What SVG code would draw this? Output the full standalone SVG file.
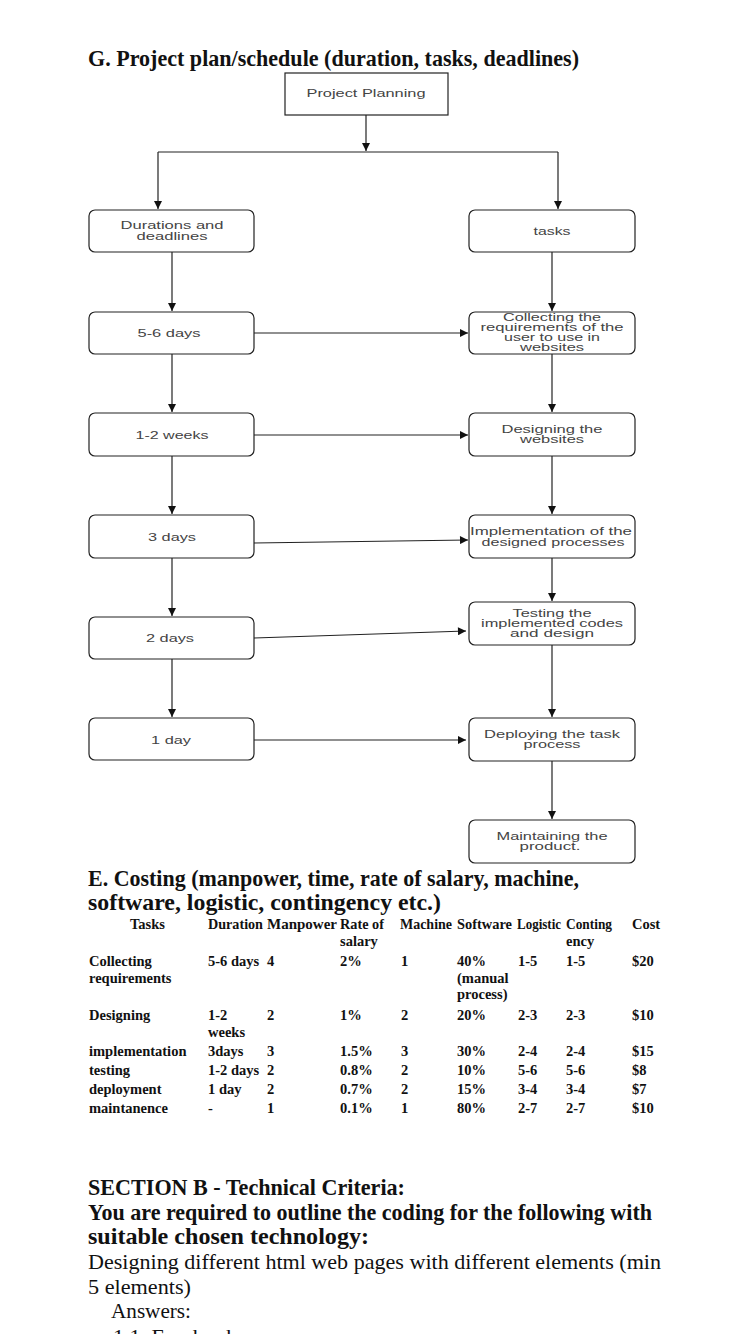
<svg xmlns="http://www.w3.org/2000/svg" width="750" height="1334" viewBox="0 0 750 1334">
<style>
.h{font-family:"Liberation Serif",serif;font-weight:bold;font-size:22.5px;fill:#111}
.p{font-family:"Liberation Serif",serif;font-size:22px;fill:#111}
.n rect{fill:#fff;stroke:#222;stroke-width:1.2}
.n text{font-family:"Liberation Sans",Arial,sans-serif;font-size:11px;fill:#444;text-anchor:middle}
.c line,.c path{stroke:#222;stroke-width:1.2;fill:none}
.t{font-family:"Liberation Serif",serif;font-weight:bold;font-size:14.5px;fill:#111}
</style>
<defs>
<marker id="ah" viewBox="0 0 10 10" refX="10" refY="5" markerWidth="9" markerHeight="8" markerUnits="userSpaceOnUse" orient="auto">
<path d="M0,0 L10,5 L0,10 Z" fill="#111"/>
</marker>
</defs>
<rect width="750" height="1334" fill="#fff"/>

<text class="h" x="88" y="66" textLength="491" lengthAdjust="spacingAndGlyphs">G. Project plan/schedule (duration, tasks, deadlines)</text>

<g class="c" id="connectors">
<line x1="366" y1="115" x2="366" y2="151" marker-end="url(#ah)"/>
<line x1="158" y1="152" x2="558" y2="152"/>
<line x1="158" y1="152" x2="158" y2="209" marker-end="url(#ah)"/>
<line x1="558" y1="152" x2="558" y2="209" marker-end="url(#ah)"/>
<line x1="172" y1="252" x2="172" y2="311" marker-end="url(#ah)"/>
<line x1="172" y1="354" x2="172" y2="412" marker-end="url(#ah)"/>
<line x1="172" y1="456" x2="172" y2="514" marker-end="url(#ah)"/>
<line x1="172" y1="558" x2="172" y2="616" marker-end="url(#ah)"/>
<line x1="172" y1="659" x2="172" y2="717" marker-end="url(#ah)"/>
<line x1="552" y1="252" x2="552" y2="311" marker-end="url(#ah)"/>
<line x1="552" y1="354" x2="552" y2="412" marker-end="url(#ah)"/>
<line x1="552" y1="456" x2="552" y2="514" marker-end="url(#ah)"/>
<line x1="552" y1="558" x2="552" y2="601" marker-end="url(#ah)"/>
<line x1="552" y1="645" x2="552" y2="717" marker-end="url(#ah)"/>
<line x1="552" y1="761" x2="552" y2="819" marker-end="url(#ah)"/>
<line x1="254" y1="333" x2="468" y2="333" marker-end="url(#ah)"/>
<line x1="254" y1="435" x2="468" y2="435" marker-end="url(#ah)"/>
<line x1="254" y1="543" x2="468" y2="540" marker-end="url(#ah)"/>
<line x1="254" y1="638" x2="466" y2="631" marker-end="url(#ah)"/>
<line x1="254" y1="740" x2="466" y2="740" marker-end="url(#ah)"/>
</g>

<g class="n" id="project-planning">
<rect x="285" y="73" width="163" height="42"/>
<text x="366" y="97" textLength="119" lengthAdjust="spacingAndGlyphs">Project Planning</text>
</g>
<g class="n" id="durations">
<rect x="89" y="210" width="165" height="42" rx="6"/>
<text x="172" y="229" textLength="103" lengthAdjust="spacingAndGlyphs">Durations and</text>
<text x="172" y="240" textLength="71" lengthAdjust="spacingAndGlyphs">deadlines</text>
</g>
<g class="n" id="tasks">
<rect x="469" y="210" width="166" height="42" rx="6"/>
<text x="552" y="235" textLength="37" lengthAdjust="spacingAndGlyphs">tasks</text>
</g>
<g class="n" id="d1">
<rect x="89" y="312" width="165" height="42" rx="6"/>
<text x="169" y="337" textLength="63" lengthAdjust="spacingAndGlyphs">5-6 days</text>
</g>
<g class="n" id="t1">
<rect x="469" y="312" width="166" height="42" rx="6"/>
<text x="552" y="321" textLength="98" lengthAdjust="spacingAndGlyphs">Collecting the</text>
<text x="552" y="331" textLength="143" lengthAdjust="spacingAndGlyphs">requirements of the</text>
<text x="552" y="341" textLength="96" lengthAdjust="spacingAndGlyphs">user to use in</text>
<text x="552" y="351" textLength="64" lengthAdjust="spacingAndGlyphs">websites</text>
</g>
<g class="n" id="d2">
<rect x="89" y="413" width="165" height="43" rx="6"/>
<text x="172" y="439" textLength="73" lengthAdjust="spacingAndGlyphs">1-2 weeks</text>
</g>
<g class="n" id="t2">
<rect x="469" y="413" width="166" height="43" rx="6"/>
<text x="552" y="433" textLength="101" lengthAdjust="spacingAndGlyphs">Designing the</text>
<text x="552" y="443" textLength="64" lengthAdjust="spacingAndGlyphs">websites</text>
</g>
<g class="n" id="d3">
<rect x="89" y="515" width="165" height="43" rx="6"/>
<text x="172" y="541" textLength="48" lengthAdjust="spacingAndGlyphs">3 days</text>
</g>
<g class="n" id="t3">
<rect x="469" y="515" width="166" height="43" rx="6"/>
<text x="551" y="535" textLength="162" lengthAdjust="spacingAndGlyphs">Implementation of the</text>
<text x="553" y="546" textLength="143" lengthAdjust="spacingAndGlyphs">designed processes</text>
</g>
<g class="n" id="d4">
<rect x="89" y="617" width="165" height="42" rx="6"/>
<text x="170" y="642" textLength="48" lengthAdjust="spacingAndGlyphs">2 days</text>
</g>
<g class="n" id="t4">
<rect x="469" y="602" width="166" height="43" rx="6"/>
<text x="552" y="617" textLength="79" lengthAdjust="spacingAndGlyphs">Testing the</text>
<text x="552" y="627" textLength="142" lengthAdjust="spacingAndGlyphs">implemented codes</text>
<text x="552" y="637" textLength="84" lengthAdjust="spacingAndGlyphs">and design</text>
</g>
<g class="n" id="d5">
<rect x="89" y="718" width="165" height="42" rx="6"/>
<text x="171" y="744" textLength="40" lengthAdjust="spacingAndGlyphs">1 day</text>
</g>
<g class="n" id="t5">
<rect x="469" y="718" width="166" height="43" rx="6"/>
<text x="552" y="738" textLength="136" lengthAdjust="spacingAndGlyphs">Deploying the task</text>
<text x="552" y="748" textLength="57" lengthAdjust="spacingAndGlyphs">process</text>
</g>
<g class="n" id="t6">
<rect x="469" y="820" width="166" height="43" rx="6"/>
<text x="552" y="840" textLength="111" lengthAdjust="spacingAndGlyphs">Maintaining the</text>
<text x="550" y="850" textLength="61" lengthAdjust="spacingAndGlyphs">product.</text>
</g>

<text class="h" x="88" y="886" textLength="491" lengthAdjust="spacingAndGlyphs">E. Costing (manpower, time, rate of salary, machine,</text>
<text class="h" x="88" y="910" textLength="353" lengthAdjust="spacingAndGlyphs">software, logistic, contingency etc.)</text>

<g class="t">
<text x="130" y="929">Tasks</text>
<text x="208" y="929" textLength="55" lengthAdjust="spacingAndGlyphs">Duration</text>
<text x="267" y="929" textLength="70" lengthAdjust="spacingAndGlyphs">Manpower</text>
<text x="340" y="929" textLength="44" lengthAdjust="spacingAndGlyphs">Rate of</text>
<text x="340" y="946">salary</text>
<text x="400" y="929" textLength="52" lengthAdjust="spacingAndGlyphs">Machine</text>
<text x="457" y="929" textLength="55" lengthAdjust="spacingAndGlyphs">Software</text>
<text x="517" y="929" textLength="44" lengthAdjust="spacingAndGlyphs">Logistic</text>
<text x="566" y="929" textLength="46" lengthAdjust="spacingAndGlyphs">Conting</text>
<text x="566" y="946">ency</text>
<text x="632" y="929">Cost</text>

<text x="89" y="966">Collecting</text>
<text x="89" y="983">requirements</text>
<text x="208" y="966">5-6 days</text>
<text x="267" y="966">4</text>
<text x="340" y="966">2%</text>
<text x="401" y="966">1</text>
<text x="457" y="966">40%</text>
<text x="457" y="983">(manual</text>
<text x="457" y="999">process)</text>
<text x="518" y="966">1-5</text>
<text x="566" y="966">1-5</text>
<text x="632" y="966">$20</text>

<text x="89" y="1020">Designing</text>
<text x="208" y="1020">1-2</text>
<text x="208" y="1037">weeks</text>
<text x="267" y="1020">2</text>
<text x="340" y="1020">1%</text>
<text x="401" y="1020">2</text>
<text x="457" y="1020">20%</text>
<text x="518" y="1020">2-3</text>
<text x="566" y="1020">2-3</text>
<text x="632" y="1020">$10</text>

<text x="89" y="1056">implementation</text>
<text x="208" y="1056">3days</text>
<text x="267" y="1056">3</text>
<text x="340" y="1056">1.5%</text>
<text x="401" y="1056">3</text>
<text x="457" y="1056">30%</text>
<text x="518" y="1056">2-4</text>
<text x="566" y="1056">2-4</text>
<text x="632" y="1056">$15</text>

<text x="89" y="1075">testing</text>
<text x="208" y="1075">1-2 days</text>
<text x="267" y="1075">2</text>
<text x="340" y="1075">0.8%</text>
<text x="401" y="1075">2</text>
<text x="457" y="1075">10%</text>
<text x="518" y="1075">5-6</text>
<text x="566" y="1075">5-6</text>
<text x="632" y="1075">$8</text>

<text x="89" y="1094">deployment</text>
<text x="208" y="1094">1 day</text>
<text x="267" y="1094">2</text>
<text x="340" y="1094">0.7%</text>
<text x="401" y="1094">2</text>
<text x="457" y="1094">15%</text>
<text x="518" y="1094">3-4</text>
<text x="566" y="1094">3-4</text>
<text x="632" y="1094">$7</text>

<text x="89" y="1113">maintanence</text>
<text x="208" y="1113">-</text>
<text x="267" y="1113">1</text>
<text x="340" y="1113">0.1%</text>
<text x="401" y="1113">1</text>
<text x="457" y="1113">80%</text>
<text x="518" y="1113">2-7</text>
<text x="566" y="1113">2-7</text>
<text x="632" y="1113">$10</text>
</g>

<text class="h" x="88" y="1195" textLength="317" lengthAdjust="spacingAndGlyphs">SECTION B - Technical Criteria:</text>
<text class="h" x="88" y="1220" textLength="564" lengthAdjust="spacingAndGlyphs">You are required to outline the coding for the following with</text>
<text class="h" x="88" y="1244" textLength="281" lengthAdjust="spacingAndGlyphs">suitable chosen technology:</text>
<text class="p" x="88" y="1269" textLength="573" lengthAdjust="spacingAndGlyphs">Designing different html web pages with different elements (min</text>
<text class="p" x="88" y="1294" textLength="103" lengthAdjust="spacingAndGlyphs">5 elements)</text>
<text class="p" x="111" y="1318" textLength="80" lengthAdjust="spacingAndGlyphs">Answers:</text>
<text class="p" x="113" y="1344">1.1. Facebook</text>
</svg>
